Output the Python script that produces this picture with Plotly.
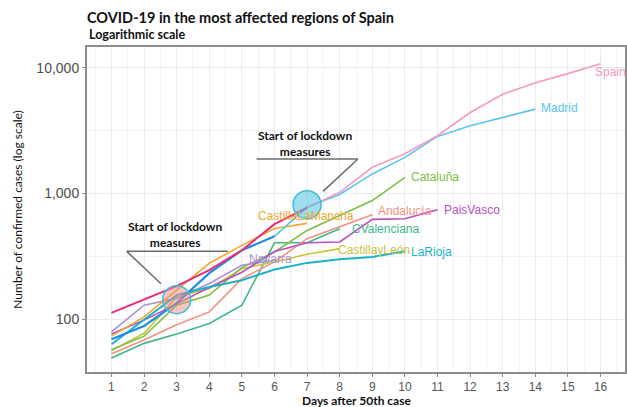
import numpy as np
import plotly.graph_objects as go

# ---------------- data ----------------
spain_days = list(range(1, 17))
spain_vals = [112, 144, 183, 245, 353, 570, 770, 1023, 1618, 2075, 2884, 4416, 6180, 7640, 9015, 10800]

madrid_days = list(range(1, 15))
madrid_vals = [69, 88, 134, 232, 353, 456, 780, 981, 1432, 1941, 2850, 3470, 4036, 4700]

cataluna_days = list(range(1, 11))
cataluna_vals = [57, 73, 129, 155, 257, 342, 508, 668, 879, 1346]

clm_days = list(range(1, 8))
clm_vals = [73, 104, 170, 278, 386, 527, 578]

andalucia_days = list(range(1, 10))
andalucia_vals = [53, 68, 90, 114, 210, 285, 437, 541, 678]

paisvasco_days = list(range(1, 12))
paisvasco_vals = [76, 98, 132, 178, 236, 345, 405, 411, 622, 630, 743]

cvalenciana_days = list(range(1, 9))
cvalenciana_vals = [49, 64, 76, 92, 129, 405, 405, 524]

cyl_days = list(range(1, 9))
cyl_vals = [56, 77, 150, 175, 252, 285, 328, 364]

navarra_days = list(range(1, 7))
navarra_vals = [79, 129, 146, 192, 268, 294]

larioja_days = list(range(1, 11))
larioja_vals = [63, 98, 155, 180, 204, 248, 280, 299, 312, 347]

label_names = ["Spain", "Madrid", "Cataluña", "CastillaLaMancha", "Andalucía", "PaisVasco",
               "CValenciana", "CastillayLeón", "Navarra", "LaRioja"]
label_x = [15.77, 14.11, 10.14, 5.43, 9.10, 11.15, 8.32, 7.88, 5.16, 10.14]
label_v = [9330, 4830, 1361, 665, 729, 743, 521, 357, 302, 342]

x_ticks = list(range(1, 17))
y_ticks = [100, 1000, 10000]
y_ticktext = ["100", "1,000", "10,000"]

lock_days = [3, 7]            # circles marking start of lockdown
lock_vals = [142.6, 815]
lock_text_x = [2.96, 6.93]
lock_text_v = [474, 2518]

# ---------------- styles ----------------
X_RANGE = [0.25, 16.75]
Y_RANGE = [1.578, 4.167]
W, H = 627, 407
M_L, M_R, M_T, M_B = 87, 2, 47, 35
PLOT_H = H - M_T - M_B

colors = {
    "Spain": "#F59AC0", "Madrid": "#5BC4F0", "Cataluña": "#7DBF44",
    "CastillaLaMancha": "#F0A830", "Andalucía": "#F7907F", "PaisVasco": "#B84FC0",
    "CValenciana": "#3CB98A", "CastillayLeón": "#C8C43A", "Navarra": "#A991DB",
    "LaRioja": "#1BB0C8",
}
spain_early_color = "#EC297B"
madrid_early_color = "#1C8FE0"


def px(d):
    return (d - X_RANGE[0]) / (X_RANGE[1] - X_RANGE[0])


def py(logv):
    return (logv - Y_RANGE[0]) / (Y_RANGE[1] - Y_RANGE[0])


fig = go.Figure()


def add_line(x, y, color, width=1.6):
    fig.add_trace(go.Scatter(x=x, y=y, mode="lines",
                             line=dict(color=color, width=width),
                             showlegend=False, hoverinfo="skip"))


add_line(cvalenciana_days, cvalenciana_vals, colors["CValenciana"])
add_line(andalucia_days, andalucia_vals, colors["Andalucía"])
add_line(cyl_days, cyl_vals, colors["CastillayLeón"])
add_line(cataluna_days, cataluna_vals, colors["Cataluña"])
add_line(navarra_days, navarra_vals, colors["Navarra"])
add_line(paisvasco_days, paisvasco_vals, colors["PaisVasco"])
add_line(larioja_days, larioja_vals, colors["LaRioja"], 2.0)
add_line(clm_days, clm_vals, colors["CastillaLaMancha"])
add_line(madrid_days[5:], madrid_vals[5:], colors["Madrid"])
add_line(spain_days[6:], spain_vals[6:], colors["Spain"])
add_line(madrid_days[:6], madrid_vals[:6], madrid_early_color, 2.2)
add_line(spain_days[:7], spain_vals[:7], spain_early_color, 2.0)

annotations = []
for name, lx, lv in zip(label_names, label_x, label_v):
    annotations.append(dict(x=px(lx), y=py(np.log10(lv)), xref="paper", yref="paper", text=name,
                            showarrow=False, xanchor="left", yanchor="middle",
                            font=dict(family="Arial", size=12, color=colors[name])))

for tx, tv in zip(lock_text_x, lock_text_v):
    annotations.append(dict(x=px(tx), y=py(np.log10(tv)), xref="paper", yref="paper",
                            text="<b>Start of lockdown</b><br><b>measures</b>", showarrow=False,
                            xanchor="center", yanchor="middle", align="center",
                            font=dict(family="Lato", size=12, color="#111")))

annotations.append(dict(x=0, y=1, xref="paper", yref="paper", xanchor="left",
                        yanchor="bottom", yshift=3, showarrow=False,
                        text="<b>Logarithmic scale</b>",
                        font=dict(family="Lato", size=12.5, color="#111")))

# x-axis title placed as annotation just under the tick labels
annotations.append(dict(x=0.5, y=-(400 - (H - M_B)) / PLOT_H, xref="paper", yref="paper",
                        xanchor="center", yanchor="middle", showarrow=False,
                        text="<b>Days after 50th case</b>",
                        font=dict(family="Lato", size=12, color="#111")))

shapes = []
gray = "#6b6b6b"


def seg(x0, l0, x1, l1):
    shapes.append(dict(type="line", xref="paper", yref="paper",
                       x0=px(x0), y0=py(l0), x1=px(x1), y1=py(l1),
                       line=dict(color=gray, width=1.5), layer="above"))


seg(1.47, 2.539, 4.57, 2.539)
seg(1.47, 2.539, 2.52, 2.281)
seg(5.45, 3.275, 8.56, 3.275)
seg(8.56, 3.275, 7.49, 3.017)

fills = ["rgba(240,140,130,0.5)", "rgba(80,195,225,0.55)"]
for d, v, fc in zip(lock_days, lock_vals, fills):
    shapes.append(dict(type="circle", xref="paper", yref="paper", xsizemode="pixel", ysizemode="pixel",
                       xanchor=px(d), yanchor=py(np.log10(v)), x0=-14, x1=14, y0=-14, y1=14,
                       fillcolor=fc, line=dict(color="#3DBCD6", width=1.5), layer="above"))

fig.update_layout(
    width=W, height=H,
    margin=dict(l=M_L, r=M_R, t=M_T, b=M_B, autoexpand=False),
    paper_bgcolor="white", plot_bgcolor="white",
    font=dict(family="Arial", color="#4D4D4D"),
    title=dict(text="<b>COVID-19 in the most affected regions of Spain</b>",
               x=M_L / W, xanchor="left", y=1 - 18 / H, yanchor="middle",
               font=dict(family="Lato", size=14.5, color="#111")),
    annotations=annotations,
    shapes=shapes,
    showlegend=False,
)

fig.update_xaxes(
    range=X_RANGE, tickvals=x_ticks, ticktext=[str(t) for t in x_ticks],
    showgrid=True, gridcolor="#EBEBEB", gridwidth=1,
    minor=dict(tickvals=[t + 0.5 for t in range(0, 17)], showgrid=True, gridcolor="#F3F3F3", ticks=""),
    showline=True, mirror=True, linecolor="#8C8C8C", linewidth=2,
    ticks="outside", ticklen=3, tickcolor="#8C8C8C",
    tickfont=dict(family="Arial", size=12, color="#555"),
    zeroline=False, automargin=False,
)
fig.update_yaxes(
    type="log", range=Y_RANGE, tickvals=y_ticks, ticktext=y_ticktext,
    showgrid=True, gridcolor="#EBEBEB", gridwidth=1,
    minor=dict(tickvals=[316.23, 3162.3], showgrid=True, gridcolor="#F3F3F3", ticks=""),
    showline=True, mirror=True, linecolor="#8C8C8C", linewidth=2,
    ticks="outside", ticklen=3, tickcolor="#8C8C8C",
    tickfont=dict(family="Arial", size=14, color="#4D4D4D"),
    zeroline=False, automargin=False,
    title=dict(text="Number of confirmed cases (log scale)", standoff=11,
               font=dict(family="Lato", size=12, color="#111")),
)

fig.write_html("out.html", config={"displayModeBar": False},
               post_script="document.body.style.margin='0';document.body.style.overflow='hidden';")
